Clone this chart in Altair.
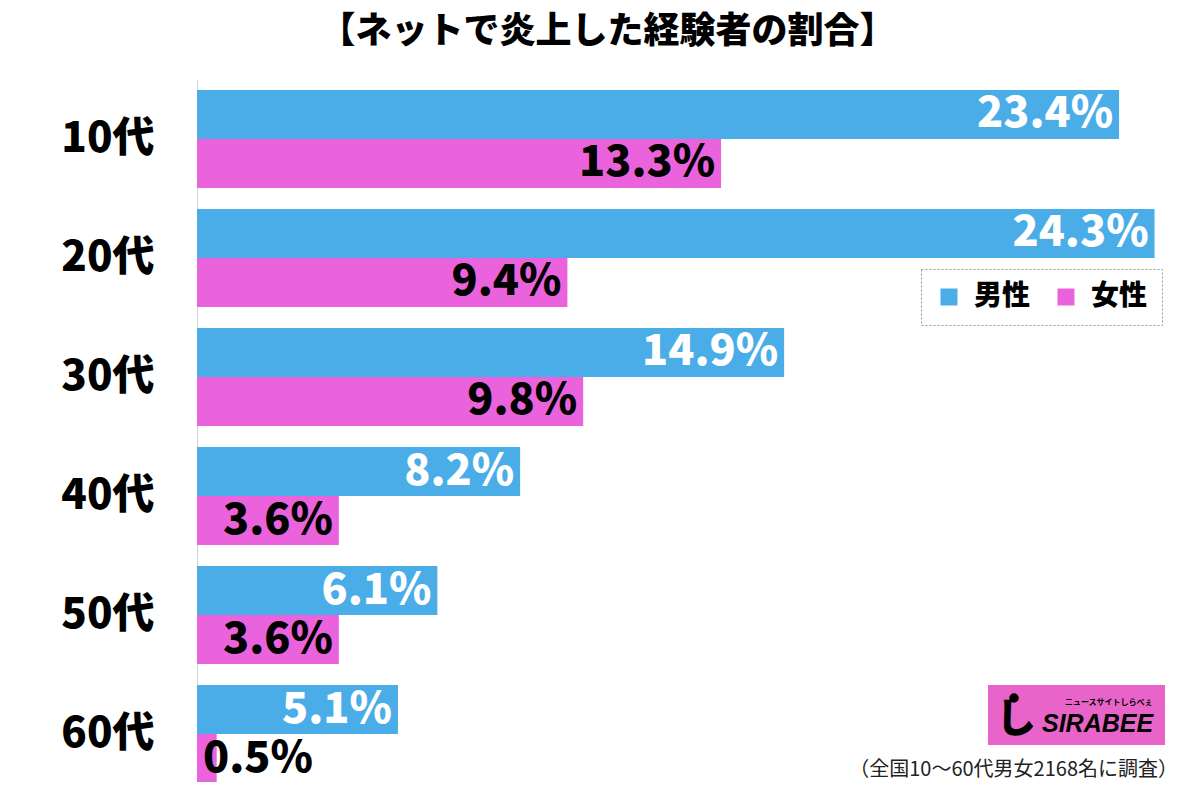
import altair as alt
import pandas as pd

ages = ["10代", "20代", "30代", "40代", "50代", "60代"]
male = [23.4, 24.3, 14.9, 8.2, 6.1, 5.1]
female = [13.3, 9.4, 9.8, 3.6, 3.6, 0.5]
genders = ["男性", "女性"]
colors = ["#4BADE8", "#EA63DC"]
title_text = "【ネットで炎上した経験者の割合】"
footnote = "（全国10～60代男女2168名に調査）"

F = "Noto Sans CJK JP"

rows = []
for a, m, f in zip(ages, male, female):
    rows.append({"age": a, "gender": "男性", "value": m, "label": f"{m}%"})
    rows.append({"age": a, "gender": "女性", "value": f, "label": f"{f}%"})
df = pd.DataFrame(rows)

base = alt.Chart(df).encode(
    y=alt.Y(
        "age:N",
        sort=ages,
        scale=alt.Scale(domain=ages, range=[0, 713], paddingInner=0.1765, paddingOuter=0.084),
        axis=alt.Axis(
            title=None, ticks=False, grid=False,
            labelFontSize=42, labelFont=F, labelFontWeight=900, labelColor="black",
            labelPadding=43, domainColor="#d0d0d0", domainWidth=1,
        ),
    ),
    yOffset=alt.YOffset("gender:N", sort=genders,
                        scale=alt.Scale(domain=genders, paddingInner=0, paddingOuter=0)),
)

xscale = alt.Scale(domain=[0, 25.2], nice=False, zero=True)

bars = base.mark_bar().encode(
    x=alt.X("value:Q", scale=xscale, axis=None),
    color=alt.Color(
        "gender:N", sort=genders,
        scale=alt.Scale(domain=genders, range=colors),
        legend=alt.Legend(
            title=None, orient="none", legendX=724, legendY=189, direction="horizontal",
            symbolType="square", symbolSize=289, symbolStrokeWidth=0,
            labelFontSize=28, labelFont=F, labelFontWeight=900, labelColor="black",
            labelOffset=11, columnPadding=21, padding=14, labelLimit=300,
            strokeColor="#999999", fillColor="white", cornerRadius=0,
        ),
    ),
)

lbl_big = base.transform_filter("datum.value >= 1").mark_text(
    align="right", baseline="middle", dx=-6, fontSize=43, font=F, fontWeight=900
).encode(
    x=alt.X("value:Q", scale=xscale),
    text="label:N",
    color=alt.condition("datum.gender == '男性'", alt.value("white"), alt.value("black")),
)

lbl_small = base.transform_filter("datum.value < 1").mark_text(
    align="left", baseline="middle", dx=6, fontSize=43, font=F, fontWeight=900, color="black"
).encode(
    x=alt.datum(0),
    text="label:N",
)

one = pd.DataFrame({"t": ["x"]})

logo_rect = alt.Chart(one).mark_rect(color="#E864C8").encode(
    x=alt.value(791), x2=alt.value(968), y=alt.value(605), y2=alt.value(665)
)
logo_name = alt.Chart(pd.DataFrame({"t": ["SIRABEE"]})).mark_text(
    align="left", baseline="middle", fontSize=25, font="Liberation Sans",
    fontStyle="italic", fontWeight="bold", color="black"
).encode(x=alt.value(845), y=alt.value(644), text="t:N")
logo_sub = alt.Chart(pd.DataFrame({"t": ["ニュースサイトしらべぇ"]})).mark_text(
    align="left", baseline="middle", fontSize=8, font=F, fontWeight="bold", color="black"
).encode(x=alt.value(868), y=alt.value(623), text="t:N")
logo_hook = alt.Chart(pd.DataFrame({"t": ["し"]})).mark_text(
    align="center", baseline="middle", fontSize=40, font=F, fontWeight=900, color="black"
).encode(x=alt.value(819), y=alt.value(640), text="t:N")
logo_dot = alt.Chart(one).mark_point(filled=True, color="black", size=90, opacity=1).encode(
    x=alt.value(817), y=alt.value(618)
)

note = alt.Chart(pd.DataFrame({"t": [footnote]})).mark_text(
    align="right", baseline="middle", fontSize=20, font=F, color="#222222"
).encode(x=alt.value(981), y=alt.value(690), text="t:N")

chart = alt.layer(
    bars, lbl_big, lbl_small, logo_rect, logo_name, logo_sub, logo_hook, logo_dot, note
).properties(
    width=993,
    height=702,
    autosize=alt.AutoSizeParams(type="none"),
    padding={"left": 189, "top": 72, "right": 2, "bottom": 0},
    background="white",
    title=alt.TitleParams(
        text=title_text, fontSize=36, font=F, fontWeight=900, color="black",
        anchor="middle", frame="group", dx=-86, offset=29,
    ),
).configure_view(strokeWidth=0).configure_legend(strokeDash=[2, 2])

chart.save("out.html", embed_options={"renderer": "svg", "actions": False})
